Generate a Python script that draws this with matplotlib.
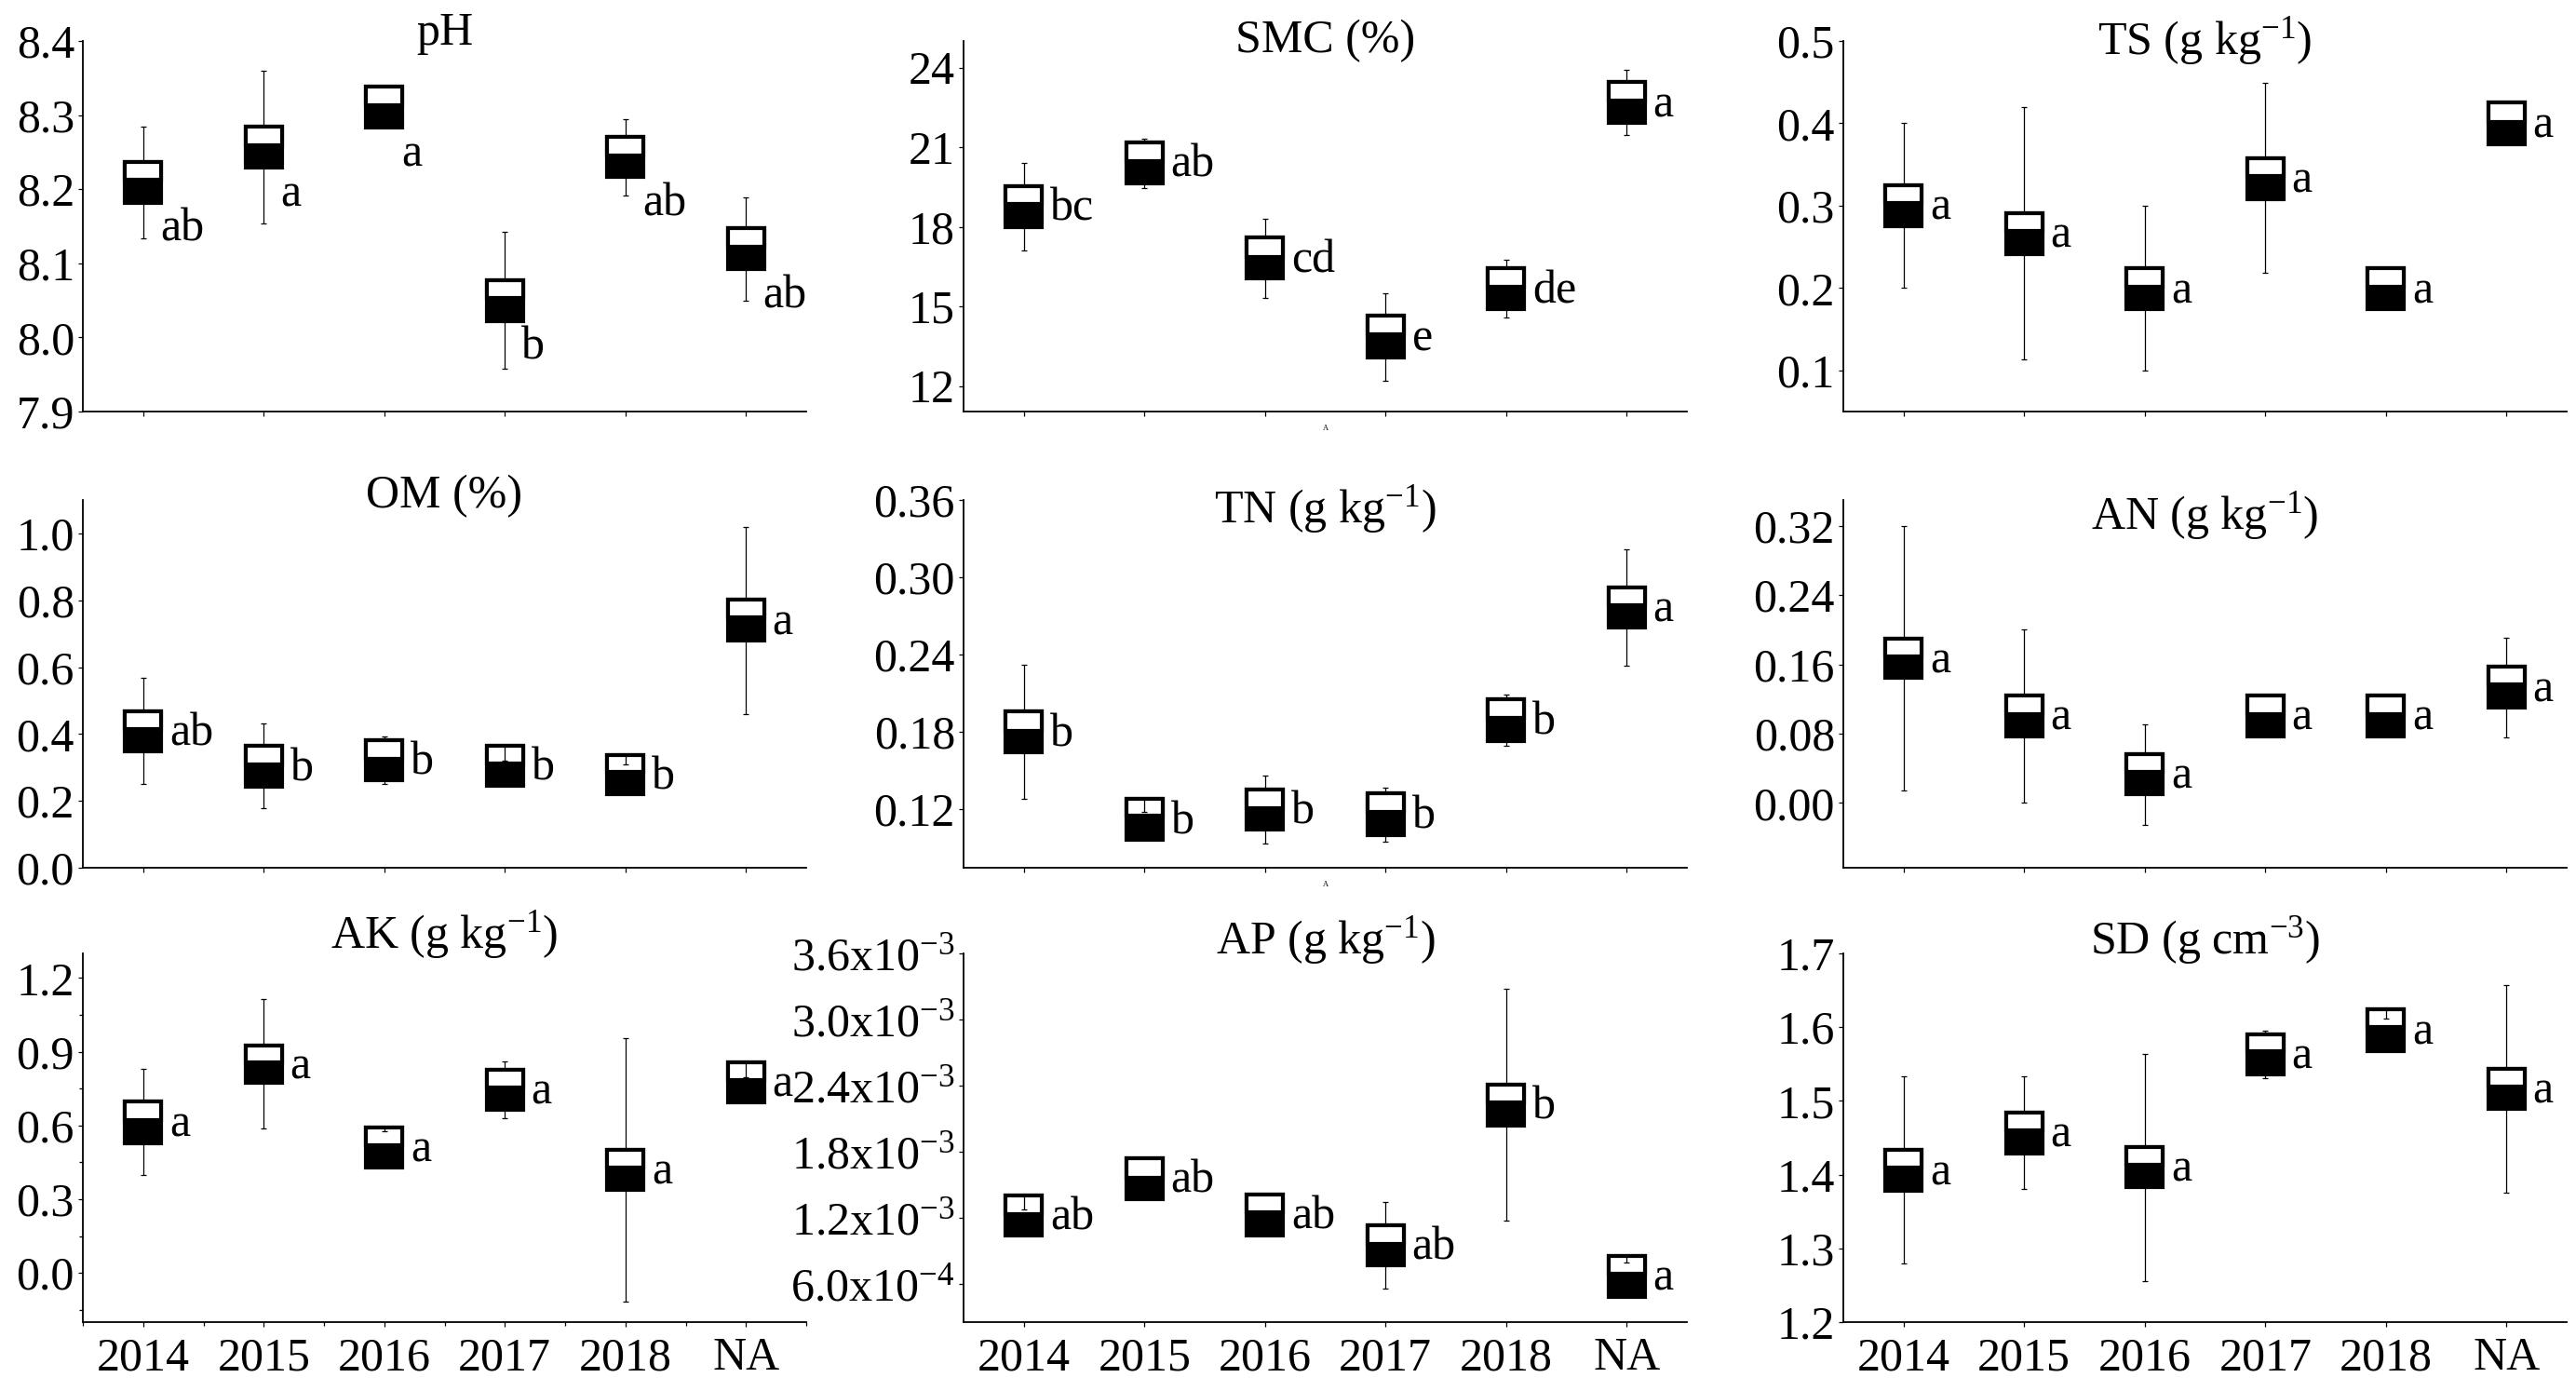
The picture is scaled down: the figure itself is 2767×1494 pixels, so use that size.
# -*- coding: utf-8 -*-
# Painel 3x3: propriedades do solo por ano (caixa média/erro, barras de desvio, letras de Tukey)
import numpy as np
import matplotlib
matplotlib.use("Agg")
import matplotlib.pyplot as plt
from matplotlib.ticker import FixedLocator, FormatStrFormatter, FixedFormatter

plt.rcParams.update({"font.family": ["Liberation Serif", "DejaVu Serif"], "font.size": 36,
                     "mathtext.fontset": "custom", "mathtext.rm": "Liberation Serif",
                     "mathtext.it": "Liberation Serif:italic", "mathtext.bf": "Liberation Serif:bold",
                     "axes.spines.top": False, "axes.spines.right": False, "axes.linewidth": 1.3,
                     "xtick.major.size": 3.5, "ytick.major.size": 3.5,
                     "xtick.major.width": 0.9, "ytick.major.width": 0.9,
                     "xtick.minor.size": 3, "ytick.minor.size": 3,
                     "xtick.minor.width": 0.9, "ytick.minor.width": 0.9,
                     "xtick.major.pad": 8, "ytick.major.pad": 3})

GRUPOS = ["2014", "2015", "2016", "2017", "2018", "NA"]

# ---- dados: whisker inf., base, divisão, topo, whisker sup., letras ----
ph_wlo = [8.134, 8.154, 8.283, 7.958, 8.192, 8.049]
ph_bot = [8.182, 8.229, 8.283, 8.022, 8.216, 8.092]
ph_mid = [8.213, 8.259, 8.313, 8.053, 8.245, 8.122]
ph_top = [8.237, 8.284, 8.338, 8.077, 8.271, 8.147]
ph_whi = [8.285, 8.360, 8.338, 8.142, 8.295, 8.189]
ph_let = ["ab", "a", "a", "b", "ab", "ab"]

smc_wlo = [17.11, 19.47, 15.32, 12.21, 14.58, 21.44]
smc_bot = [17.99, 19.63, 16.04, 13.08, 14.89, 21.90]
smc_mid = [18.86, 20.48, 16.88, 13.96, 15.75, 22.74]
smc_top = [19.54, 21.19, 17.60, 14.64, 16.44, 23.45]
smc_whi = [20.41, 21.33, 18.31, 15.49, 16.76, 23.91]
smc_let = ["bc", "ab", "cd", "e", "de", "a"]

ts_wlo = [0.200, 0.113, 0.100, 0.218, 0.174, 0.375]
ts_bot = [0.275, 0.241, 0.174, 0.308, 0.174, 0.375]
ts_mid = [0.303, 0.269, 0.202, 0.336, 0.202, 0.402]
ts_top = [0.325, 0.291, 0.224, 0.358, 0.224, 0.425]
ts_whi = [0.400, 0.420, 0.300, 0.449, 0.224, 0.425]
ts_let = ["a", "a", "a", "a", "a", "a"]

om_wlo = [0.251, 0.177, 0.250, 0.246, 0.219, 0.459]
om_bot = [0.348, 0.242, 0.261, 0.246, 0.219, 0.679]
om_mid = [0.416, 0.309, 0.325, 0.313, 0.287, 0.748]
om_top = [0.469, 0.364, 0.381, 0.366, 0.338, 0.802]
om_whi = [0.568, 0.432, 0.392, 0.321, 0.310, 1.020]
om_let = ["ab", "b", "b", "b", "b", "a"]

tn_wlo = [0.128, 0.096, 0.093, 0.095, 0.169, 0.231]
tn_bot = [0.164, 0.096, 0.104, 0.100, 0.173, 0.261]
tn_mid = [0.181, 0.115, 0.121, 0.118, 0.191, 0.278]
tn_top = [0.196, 0.128, 0.135, 0.132, 0.205, 0.292]
tn_whi = [0.232, 0.118, 0.146, 0.137, 0.209, 0.322]
tn_let = ["b", "b", "b", "b", "b", "a"]

an_wlo = [0.014, 0.000, -0.025, 0.077, 0.077, 0.076]
an_bot = [0.144, 0.077, 0.010, 0.077, 0.077, 0.110]
an_mid = [0.169, 0.102, 0.036, 0.102, 0.102, 0.137]
an_top = [0.190, 0.124, 0.056, 0.124, 0.124, 0.157]
an_whi = [0.320, 0.200, 0.091, 0.124, 0.124, 0.191]
an_let = ["a", "a", "a", "a", "a", "a"]

ak_wlo = [0.397, 0.589, 0.428, 0.631, -0.117, 0.695]
ak_bot = [0.528, 0.772, 0.428, 0.665, 0.336, 0.695]
ak_mid = [0.621, 0.857, 0.520, 0.753, 0.428, 0.784]
ak_top = [0.697, 0.924, 0.591, 0.828, 0.500, 0.857]
ak_whi = [0.831, 1.113, 0.576, 0.860, 0.955, 0.797]
ak_let = ["a", "a", "a", "a", "a", "a"]

ap_wlo = [1.037e-3, 1.373e-3, 1.043e-3, 0.558e-3, 1.177e-3, 0.487e-3]
ap_bot = [1.037e-3, 1.373e-3, 1.043e-3, 0.769e-3, 2.039e-3, 0.487e-3]
ap_mid = [1.239e-3, 1.566e-3, 1.251e-3, 0.962e-3, 2.247e-3, 0.695e-3]
ap_top = [1.403e-3, 1.742e-3, 1.414e-3, 1.135e-3, 2.411e-3, 0.858e-3]
ap_whi = [1.275e-3, 1.742e-3, 1.414e-3, 1.343e-3, 3.276e-3, 0.799e-3]
ap_let = ["ab", "ab", "ab", "ab", "b", "a"]

sd_wlo = [1.279, 1.380, 1.255, 1.531, 1.568, 1.376]
sd_bot = [1.378, 1.429, 1.383, 1.536, 1.568, 1.489]
sd_mid = [1.409, 1.460, 1.413, 1.567, 1.600, 1.519]
sd_top = [1.433, 1.484, 1.438, 1.590, 1.624, 1.544]
sd_whi = [1.533, 1.533, 1.564, 1.595, 1.612, 1.657]
sd_let = ["a", "a", "a", "a", "a", "a"]

# ticks dos eixos y
ph_ticks = [7.9, 8.0, 8.1, 8.2, 8.3, 8.4]
smc_ticks = [12, 15, 18, 21, 24]
ts_ticks = [0.1, 0.2, 0.3, 0.4, 0.5]
om_ticks = [0.0, 0.2, 0.4, 0.6, 0.8, 1.0]
tn_ticks = [0.12, 0.18, 0.24, 0.30, 0.36]
an_ticks = [0.00, 0.08, 0.16, 0.24, 0.32]
ak_ticks = [0.0, 0.3, 0.6, 0.9, 1.2]
ap_ticks = [0.6e-3, 1.2e-3, 1.8e-3, 2.4e-3, 3.0e-3, 3.6e-3]
ap_ticklab = ["6.0x10$^{-4}$", "1.2x10$^{-3}$", "1.8x10$^{-3}$",
              "2.4x10$^{-3}$", "3.0x10$^{-3}$", "3.6x10$^{-3}$"]
sd_ticks = [1.2, 1.3, 1.4, 1.5, 1.6, 1.7]

# ---- layout (pixels da figura original) ----
W, H = 2767, 1494
COL_X = [89, 1035, 1980]
AX_W = 777
ROWS = [(44, 442), (537, 932), (1024, 1420)]
LARG = 0.30     # largura da caixa (unidades de categoria)


def painel(ax, wlo, bot, mid, top, whi, letras, titulo, ty, ylim, ticks, fmt,
           abaixo=False, rotulos_x=False):
    x = np.arange(len(GRUPOS))
    bot, mid, top = np.asarray(bot), np.asarray(mid), np.asarray(top)
    ax.bar(x, top - bot, bottom=bot, width=LARG, color="black", edgecolor="black",
           linewidth=3, zorder=2)
    ax.bar(x, top - mid, bottom=mid, width=LARG, color="white", edgecolor="black",
           linewidth=3, zorder=3)
    # barras de erro: do topo ao limite superior, da base ao limite inferior
    ax.vlines(x, top, whi, color="black", lw=0.9, zorder=4)
    ax.vlines(x, bot, wlo, color="black", lw=0.9, zorder=4)
    ax.hlines(whi, x - 0.025, x + 0.025, color="black", lw=0.9, zorder=4)
    ax.hlines(wlo, x - 0.025, x + 0.025, color="black", lw=0.9, zorder=4)
    for xi, b, t, l in zip(x, bot, top, letras):
        if abaixo:
            ax.annotate(l, (xi + 0.14, b), xytext=(0, -4), textcoords="offset points",
                        ha="left", va="top", fontsize=36)
        else:
            ax.annotate(l, (xi + 0.22, (b + t) / 2), xytext=(0, -2), textcoords="offset points",
                        ha="left", va="center", fontsize=36)
    ax.text(0.5, ty, titulo, transform=ax.transAxes, ha="center", va="baseline", fontsize=36)
    ax.set_xlim(-0.5, len(GRUPOS) - 0.5)
    ax.set_ylim(*ylim)
    ax.yaxis.set_major_locator(FixedLocator(ticks))
    if isinstance(fmt, list):
        ax.yaxis.set_major_formatter(FixedFormatter(fmt))
    else:
        ax.yaxis.set_major_formatter(FormatStrFormatter(fmt))
    ax.set_xticks(x)
    ax.set_xticklabels(GRUPOS if rotulos_x else [])
    ax.tick_params(labelsize=36)


fig = plt.figure(figsize=(W / 100, H / 100), dpi=100)
axs = []
for r, (y0, y1) in enumerate(ROWS):
    for c in range(3):
        axs.append(fig.add_axes([COL_X[c] / W, 1 - y1 / H, AX_W / W, (y1 - y0) / H]))

painel(axs[0], ph_wlo, ph_bot, ph_mid, ph_top, ph_whi, ph_let, "pH", 0.99,
       (7.9, 8.4), ph_ticks, "%.1f", abaixo=True)
painel(axs[1], smc_wlo, smc_bot, smc_mid, smc_top, smc_whi, smc_let, "SMC (%)", 0.97,
       (11.04, 25.0), smc_ticks, "%d")
painel(axs[2], ts_wlo, ts_bot, ts_mid, ts_top, ts_whi, ts_let, "TS (g kg$^{-1}$)", 0.965,
       (0.05, 0.5), ts_ticks, "%.1f")
painel(axs[3], om_wlo, om_bot, om_mid, om_top, om_whi, om_let, "OM (%)", 0.98,
       (0.0, 1.10), om_ticks, "%.1f")
painel(axs[4], tn_wlo, tn_bot, tn_mid, tn_top, tn_whi, tn_let, "TN (g kg$^{-1}$)", 0.94,
       (0.0745, 0.36), tn_ticks, "%.2f")
painel(axs[5], an_wlo, an_bot, an_mid, an_top, an_whi, an_let, "AN (g kg$^{-1}$)", 0.92,
       (-0.075, 0.35), an_ticks, "%.2f")
painel(axs[6], ak_wlo, ak_bot, ak_mid, ak_top, ak_whi, ak_let, "AK (g kg$^{-1}$)", 1.015,
       (-0.2, 1.3), ak_ticks, "%.1f", rotulos_x=True)
painel(axs[7], ap_wlo, ap_bot, ap_mid, ap_top, ap_whi, ap_let, "AP (g kg$^{-1}$)", 1.0,
       (0.255e-3, 3.6e-3), ap_ticks, ap_ticklab, rotulos_x=True)
painel(axs[8], sd_wlo, sd_bot, sd_mid, sd_top, sd_whi, sd_let, "SD (g cm$^{-3}$)", 1.0,
       (1.2, 1.7), sd_ticks, "%.1f", rotulos_x=True)

# AK tem ticks menores nos dois eixos
axs[6].yaxis.set_minor_locator(FixedLocator([-0.15, 0.15, 0.45, 0.75, 1.05]))
axs[6].xaxis.set_minor_locator(FixedLocator([-0.5, 0.5, 1.5, 2.5, 3.5, 4.5, 5.5]))

# pequenos "A" perdidos sob os eixos do meio
for ax in (axs[1], axs[4]):
    ax.text(0.5, -0.045, "A", transform=ax.transAxes, ha="center", va="center", fontsize=6)

fig.savefig("out.png", dpi=100)
